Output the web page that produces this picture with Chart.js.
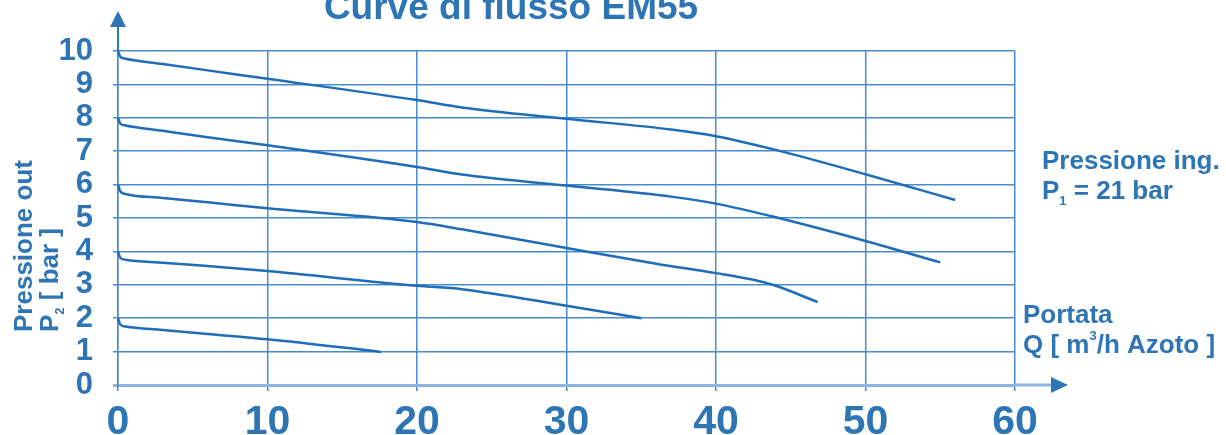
<!DOCTYPE html>
<html>
<head>
<meta charset="utf-8">
<script src="https://cdn.jsdelivr.net/npm/chart.js@4.4.0/dist/chart.umd.min.js"></script>
<style>
  html, body { margin: 0; padding: 0; background: #fff; }
</style>
</head>
<body>
<canvas id="myChart" width="1226" height="435"></canvas>
<script>
// portata Q [m3/h] e pressione out P2 [bar], una curva per ogni regolazione
const q10 = [0, 0.15, 0.5, 3, 6, 10, 20, 23, 30, 37, 40, 44, 50, 56];
const p10 = [10, 9.83, 9.77, 9.61, 9.42, 9.17, 8.53, 8.31, 7.97, 7.65, 7.45, 7.04, 6.31, 5.54];

const q8 = [0, 0.15, 0.5, 3, 6, 10, 20, 23, 30, 37, 40, 44, 50, 55];
const p8 = [8, 7.83, 7.77, 7.61, 7.42, 7.18, 6.53, 6.3, 5.97, 5.64, 5.43, 5.02, 4.31, 3.67];

const q6 = [0, 0.15, 0.5, 3, 6, 10, 20, 23, 30, 36, 40, 42.5, 44, 46.8];
const p6 = [6, 5.8, 5.72, 5.6, 5.47, 5.29, 4.88, 4.66, 4.1, 3.63, 3.35, 3.15, 2.97, 2.48];

const q4 = [0, 0.15, 0.5, 3, 6, 10, 20, 23, 30, 35];
const p4 = [4, 3.81, 3.75, 3.66, 3.56, 3.41, 2.97, 2.87, 2.37, 2.0];

const q2 = [0, 0.15, 0.5, 3, 6, 10, 17.6];
const p2 = [2, 1.81, 1.75, 1.65, 1.53, 1.37, 0.99];

const xTicks = [0, 10, 20, 30, 40, 50, 60];
const yTicks = [0, 1, 2, 3, 4, 5, 6, 7, 8, 9, 10];

const blu = '#2e75b6';
const bluLinea = '#1f6db8';
const bluGriglia = '#4a8bcb';

function punti(qs, ps) {
  return qs.map((q, i) => ({ x: q, y: ps[i] }));
}

function serie(qs, ps) {
  return {
    data: punti(qs, ps),
    borderColor: bluLinea,
    borderWidth: 2.5,
    pointRadius: 0,
    fill: false,
    cubicInterpolationMode: 'monotone',
    clip: 6
  };
}

// titolo, etichette assi, frecce
const testi = {
  id: 'testi',
  afterDraw(chart) {
    const c = chart.ctx;
    const xs = chart.scales.x;
    const ys = chart.scales.y;
    const x0 = xs.getPixelForValue(0);
    const y0 = ys.getPixelForValue(0);
    const top = chart.chartArea.top;
    const right = chart.chartArea.right;
    c.save();
    c.fillStyle = blu;
    c.strokeStyle = blu;

    // freccia asse y
    c.lineWidth = 2;
    c.beginPath();
    c.moveTo(x0, top);
    c.lineTo(x0, 26);
    c.stroke();
    c.beginPath();
    c.moveTo(x0, 11);
    c.lineTo(x0 - 8, 27);
    c.lineTo(x0 + 8, 27);
    c.closePath();
    c.fill();

    // freccia asse x
    c.strokeStyle = '#8db4e2';
    c.lineWidth = 3;
    c.beginPath();
    c.moveTo(right, y0);
    c.lineTo(1052, y0);
    c.stroke();
    c.beginPath();
    c.moveTo(1068, y0);
    c.lineTo(1051, y0 - 8);
    c.lineTo(1051, y0 + 8);
    c.closePath();
    c.fill();

    c.textBaseline = 'alphabetic';
    c.textAlign = 'center';
    c.font = 'bold 37px "Liberation Sans", Arial, sans-serif';
    c.fillText('Curve di flusso EM55', 511, 19);

    c.textAlign = 'left';
    c.font = 'bold 26px "Liberation Sans", Arial, sans-serif';
    c.fillText('Pressione ing.', 1042, 169);
    let w = c.measureText('P').width;
    c.fillText('P', 1042, 199);
    c.font = 'bold 13px "Liberation Sans", Arial, sans-serif';
    c.fillText('1', 1042 + w, 205);
    let ws = c.measureText('1').width;
    c.font = 'bold 26px "Liberation Sans", Arial, sans-serif';
    c.fillText(' = 21 bar', 1042 + w + ws, 199);

    c.fillText('Portata', 1023, 323);
    const pre = 'Q [ m';
    w = c.measureText(pre).width;
    c.fillText(pre, 1023, 353);
    c.font = 'bold 13px "Liberation Sans", Arial, sans-serif';
    c.fillText('3', 1023 + w, 340);
    ws = c.measureText('3').width;
    c.font = 'bold 26px "Liberation Sans", Arial, sans-serif';
    c.fillText('/h Azoto ]', 1023 + w + ws, 353);

    // titolo asse y, ruotato
    c.save();
    c.translate(32, 332);
    c.rotate(-Math.PI / 2);
    c.fillText('Pressione out', 0, 0);
    c.restore();

    c.save();
    c.translate(58, 332);
    c.rotate(-Math.PI / 2);
    w = c.measureText('P').width;
    c.fillText('P', 0, 0);
    c.font = 'bold 13px "Liberation Sans", Arial, sans-serif';
    c.fillText('2', w, 6);
    ws = c.measureText('2').width;
    c.font = 'bold 26px "Liberation Sans", Arial, sans-serif';
    c.fillText(' [ bar ]', w + ws, 0);
    c.restore();

    c.restore();
  }
};

const ctx = document.getElementById('myChart');

const myChart = new Chart(ctx, {
  type: 'line',
  data: {
    datasets: [
      serie(q10, p10),
      serie(q8, p8),
      serie(q6, p6),
      serie(q4, p4),
      serie(q2, p2)
    ]
  },
  options: {
    responsive: false,
    animation: false,
    layout: { padding: { top: 51, right: 211, left: 0, bottom: 0 } },
    plugins: {
      legend: { display: false },
      tooltip: { enabled: false },
      title: { display: false }
    },
    scales: {
      x: {
        type: 'linear',
        min: 0,
        max: 60,
        afterBuildTicks(scale) {
          scale.ticks = xTicks.map(v => ({ value: v }));
        },
        afterFit(scale) { scale.height = 50; },
        ticks: {
          color: blu,
          padding: 7,
          autoSkip: false,
          font: { family: '"Liberation Sans", Arial, sans-serif', size: 41, weight: 'bold' },
          maxRotation: 0
        },
        grid: {
          color: bluGriglia,
          lineWidth: 1.5,
          tickLength: 6,
          drawTicks: true
        },
        border: { display: true, color: '#8db4e2', width: 3 }
      },
      y: {
        min: 0,
        max: 10,
        afterBuildTicks(scale) {
          scale.ticks = yTicks.map(v => ({ value: v }));
        },
        afterFit(scale) { scale.width = 118; },
        ticks: {
          color: blu,
          padding: 20,
          autoSkip: false,
          font: { family: '"Liberation Sans", Arial, sans-serif', size: 31, weight: 'bold', lineHeight: 1 }
        },
        grid: {
          color: ctx => ctx.tick && ctx.tick.value === 0 ? '#8db4e2' : bluGriglia,
          lineWidth: ctx => ctx.tick && ctx.tick.value === 0 ? 3 : 1.5,
          tickLength: 5
        },
        border: { display: true, color: bluGriglia, width: 1.5 }
      }
    }
  },
  plugins: [testi]
});
</script>
</body>
</html>
